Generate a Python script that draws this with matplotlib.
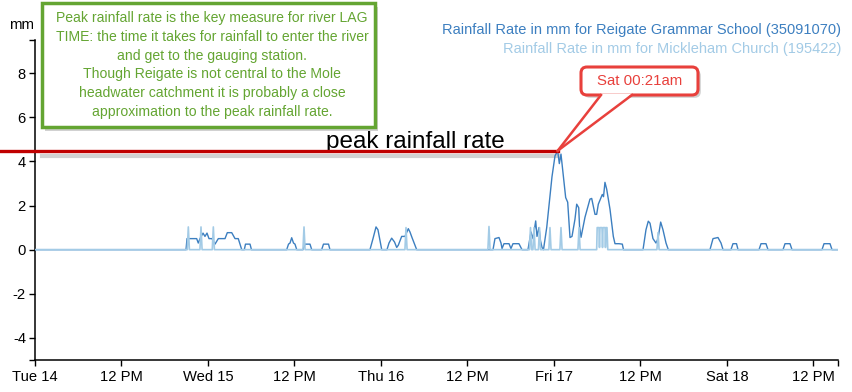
import matplotlib
matplotlib.use("Agg")
import matplotlib.pyplot as plt
from matplotlib import patches, patheffects
from matplotlib.transforms import IdentityTransform
import numpy as np

plt.rcParams["font.family"] = ["Liberation Sans", "DejaVu Sans"]

# hours since Tue 14 00:00
reigate_hours = [
    0.0, 20.95, 21.09, 22.43, 22.65, 22.89, 23.31, 23.58, 23.86, 24.14, 24.55, 24.97,
    25.43, 26.36, 26.68, 27.29, 27.75, 28.2, 28.68, 29.04, 29.2, 29.83, 30.03,
    34.92, 35.17, 35.38, 35.61, 35.86, 36.07, 36.31,
    37.18, 37.46, 38.15, 38.39, 39.77, 40.02, 40.72, 40.92,
    46.47, 46.89, 47.31, 47.58, 48.1,
    48.83, 49.11, 49.48, 49.87, 50.18, 50.4, 50.87, 51.33, 51.79, 52.02, 52.3, 52.95,
    63.54, 63.81, 64.37, 64.65, 64.79, 65.06, 65.76, 66.03, 66.31, 67.14, 67.56,
    68.39, 68.81, 69.09, 69.46, 69.64, 69.92, 70.13, 70.34, 70.54,
    70.99, 71.44, 71.72, 72.14, 72.51, 72.74, 72.97, 73.29, 73.62, 73.9,
    74.22, 74.5, 74.91, 75.15, 75.43, 75.54, 75.75, 76.3, 76.99, 77.23,
    77.69, 77.92, 78.15, 78.52, 78.7, 78.87, 79.07, 79.31, 79.77, 80.23,
    80.46, 81.02, 81.48, 81.64,
    84.35, 84.76, 85.08, 85.32, 85.73, 86.15, 86.43, 86.8, 87.12, 87.54, 87.86,
    93.64, 94.06, 94.75, 95.17, 95.45,
    96.55, 96.83, 97.32, 97.53,
    100.44, 100.72, 101.41, 101.69,
    103.77, 104.05, 104.74, 105.02,
    109.18, 109.46, 110.29, 110.57, 111.68,
]
reigate_mm = [
    0.0, 0.0, 0.5, 0.5, 0.3, 0.5, 0.75, 0.6, 0.75, 0.5, 0.5, 0.25,
    0.5, 0.5, 0.77, 0.77, 0.5, 0.5, 0.0, 0.0, 0.25, 0.25, 0.0,
    0.0, 0.25, 0.3, 0.54, 0.3, 0.25, 0.0,
    0.0, 0.25, 0.25, 0.0, 0.0, 0.25, 0.25, 0.0,
    0.0, 0.5, 1.03, 0.9, 0.0,
    0.0, 0.3, 0.52, 0.35, 0.1, 0.2, 0.6, 0.6, 0.95, 0.8, 0.55, 0.0,
    0.0, 0.5, 0.55, 0.3, 0.05, 0.27, 0.27, 0.05, 0.27, 0.27, 0.0,
    0.0, 0.8, 0.5, 1.3, 0.6, 1.0, 0.4, 0.1, 0.0,
    1.0, 2.4, 3.3, 4.25, 4.48, 3.9, 4.33, 3.35, 2.36, 2.15,
    0.55, 0.6, 1.38, 2.06, 1.9, 1.07, 0.56, 1.47, 2.29, 2.32,
    1.6, 1.6, 2.06, 2.36, 2.5, 2.4, 3.05, 2.74, 1.83, 0.6,
    0.27, 0.27, 0.25, 0.0,
    0.0, 0.9, 1.29, 1.2, 0.5, 0.3, 0.5, 1.25, 0.9, 0.3, 0.0,
    0.0, 0.5, 0.55, 0.3, 0.0,
    0.0, 0.27, 0.27, 0.0,
    0.0, 0.27, 0.27, 0.0,
    0.0, 0.27, 0.27, 0.0,
    0.0, 0.27, 0.27, 0.0, 0.0,
]

mickleham_hours = [
    0.0, 21.12, 21.27, 21.42, 22.88, 23.03, 23.18, 24.59, 24.74, 24.89,
    37.17, 37.32, 37.47, 51.32, 51.47, 51.62, 62.83, 62.98, 63.13,
    68.59, 68.74, 68.89, 69.08, 69.23, 69.38, 69.84, 69.99, 70.14,
    71.29, 71.44, 71.59, 72.82, 72.97, 73.12, 75.32, 75.47, 75.62,
    77.92, 77.99, 78.24, 78.31, 78.38, 78.66, 78.73, 78.8, 79.08, 79.14,
    79.21, 79.35, 79.46,
    86.28, 86.43, 86.58, 111.68,
]
mickleham_mm = [
    0.0, 0.0, 1.03, 0.0, 0.0, 1.03, 0.0, 0.0, 1.03, 0.0,
    0.0, 1.03, 0.0, 0.0, 1.0, 0.0, 0.0, 1.05, 0.0,
    0.0, 1.0, 0.0, 0.0, 1.0, 0.0, 0.0, 1.0, 0.0,
    0.0, 1.0, 0.0, 0.0, 1.0, 0.0, 0.0, 1.0, 0.0,
    0.0, 1.0, 1.0, 0.1, 1.0, 1.0, 0.1, 1.0, 1.0, 0.1,
    1.0, 1.0, 0.0,
    0.0, 0.77, 0.0, 0.0,
]

x_ticks = [0, 12, 24, 36, 48, 60, 72, 84, 96, 108]
x_labels = ["Tue 14", "12 PM", "Wed 15", "12 PM", "Thu 16", "12 PM",
            "Fri 17", "12 PM", "Sat 18", "12 PM"]
y_ticks = [-4, -2, 0, 2, 4, 6, 8]
y_labels = ["-4", "-2", "0", "2", "4", "6", "8"]

note = ("Peak rainfall rate is the key measure for river LAG\n"
        "TIME: the time it takes for rainfall to enter the river\n"
        "and get to the gauging station.\n"
        "Though Reigate is not central to the Mole\n"
        "headwater catchment it is probably a close\n"
        "approximation to the peak rainfall rate.")
peak_label = "Sat 00:21am"

W, H = 853, 392
dark_blue = "#3c7fc0"
light_blue = "#a3cbe6"
green = "#64a532"
red = "#e8403c"


def fx(px):
    return px / W


def fy(py):
    return 1 - py / H


fig = plt.figure(figsize=(W / 100, H / 100), dpi=100)
ax = fig.add_axes([fx(35), fy(360), 803 / W, 320 / H])

ax.plot(reigate_hours, reigate_mm, color=dark_blue, lw=1.0, zorder=3)
ax.plot(mickleham_hours, mickleham_mm, color=light_blue, lw=1.2, zorder=4)

ax.set_xlim(0, 111.4)
ax.set_ylim(-5, 9.5)
for s in ("top", "right"):
    ax.spines[s].set_visible(False)
for s in ("left", "bottom"):
    ax.spines[s].set_linewidth(1.1)
ax.set_xticks(x_ticks)
ax.set_xticklabels(x_labels)
ax.set_yticks(y_ticks)
ax.set_yticklabels(y_labels)
ax.set_xticks([111.4], minor=True)
ax.set_yticks([-5, 9.5], minor=True)
ax.tick_params(which="both", direction="out", length=4.5, width=1.0, labelsize=10.6, pad=2)
ax.tick_params(axis="x", pad=3)

# peak line
i_peak = int(np.argmax(reigate_mm))
peak_t, peak_v = reigate_hours[i_peak], reigate_mm[i_peak]
x0, x1 = ax.get_xlim()
frac = (peak_t - x0) / (x1 - x0)
ax.axhline(peak_v - 0.22, xmin=7 / 803, xmax=frac, color="#d2d2d2", lw=3.0, zorder=2)
ax.axhline(peak_v, xmin=-35 / 803, xmax=frac, color="#c00000", lw=2.4, clip_on=False, zorder=5)
ax.annotate("peak rainfall rate", xy=((415 - 35) / 803, peak_v),
            xycoords=("axes fraction", "data"), xytext=(0, -1.5),
            textcoords="offset points", ha="center", va="bottom",
            fontsize=17.5, color="black")

# callout for the peak (drawn in pixels)
tip = ax.transData.transform((peak_t, peak_v))
ident = IdentityTransform()
box = patches.FancyBboxPatch((581, H - 95), 117, 28,
                             boxstyle="round,pad=0,rounding_size=6",
                             fc="white", ec=red, lw=2.2, transform=ident, zorder=7)
box.set_path_effects([patheffects.SimplePatchShadow(offset=(2, -2), shadow_rgbFace="#888888", alpha=0.4),
                      patheffects.Normal()])
fig.add_artist(box)
fig.add_artist(patches.Polygon([(601, H - 93.5), (632, H - 93.5), tuple(tip)], closed=True,
                               fc="white", ec="none", transform=ident, zorder=8))
for bx in (601, 632):
    fig.add_artist(plt.Line2D([bx, tip[0]], [H - 95, tip[1]], color=red, lw=1.8,
                              transform=ident, zorder=8))
fig.text(fx(639.5), fy(81), peak_label, ha="center", va="center",
         fontsize=10.8, color=red, zorder=9)

# green note box
fig.add_artist(patches.Rectangle((fx(45), fy(131)), 333 / W, 124 / H,
                                 transform=fig.transFigure, fc="#999999",
                                 ec="none", alpha=0.45, zorder=5))
fig.add_artist(patches.Rectangle((fx(42), fy(127)), 333 / W, 124 / H,
                                 transform=fig.transFigure, fc="white",
                                 ec=green, lw=2.5, zorder=6))
fig.text(fx(212), fy(65), note, ha="center", va="center", color=green,
         fontsize=10.1, linespacing=1.43, zorder=7)

fig.text(fx(34), fy(25), "mm", ha="right", va="center", fontsize=10.8)
fig.text(fx(841), fy(30), "Rainfall Rate in mm for Reigate Grammar School (35091070)",
         ha="right", va="center", fontsize=10.5, color=dark_blue)
fig.text(fx(841), fy(49), "Rainfall Rate in mm for Mickleham Church (195422)",
         ha="right", va="center", fontsize=10.5, color=light_blue)

fig.savefig("out.png", dpi=100)
